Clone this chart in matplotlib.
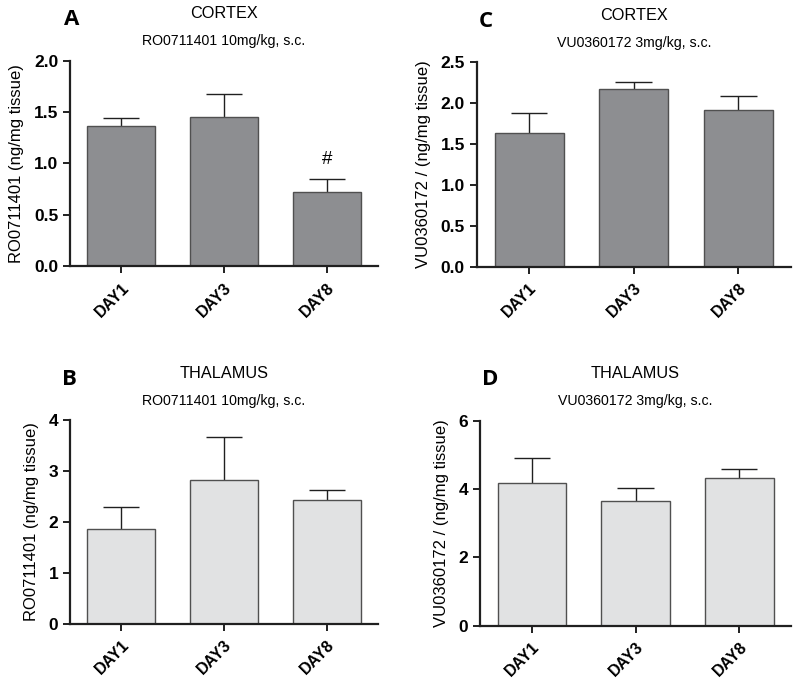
import matplotlib
matplotlib.use('Agg')
import matplotlib.pyplot as plt
import numpy as np

plt.rcParams['font.family'] = ['Liberation Sans', 'DejaVu Sans']

days = ['DAY1', 'DAY3', 'DAY8']

# panel A: cortex, RO0711401
ro_cortex = [1.37, 1.45, 0.72]
ro_cortex_sem = [0.07, 0.23, 0.13]
# panel B: thalamus, RO0711401
ro_thal = [1.87, 2.83, 2.43]
ro_thal_sem = [0.42, 0.84, 0.20]
# panel C: cortex, VU0360172
vu_cortex = [1.63, 2.17, 1.92]
vu_cortex_sem = [0.25, 0.09, 0.17]
# panel D: thalamus, VU0360172
vu_thal = [4.19, 3.65, 4.33]
vu_thal_sem = [0.73, 0.39, 0.25]

dark_bar = '#8d8e91'
light_bar = '#e1e2e3'

fig = plt.figure(figsize=(8, 6.84), dpi=100)


def panel(rect, vals, sem, color, letter, title, sub, ylabel, yticks, fmt, marks=None):
    ax = fig.add_axes(rect)
    x = np.arange(len(days))
    ax.bar(x, vals, width=0.66, color=color, edgecolor='#505050', linewidth=1.0, zorder=2)
    tops = np.array(vals) + np.array(sem)
    ax.vlines(x, vals, tops, color='#202020', linewidth=1.0, zorder=1)
    ax.hlines(tops, x - 0.175, x + 0.175, color='#202020', linewidth=1.0, zorder=1)
    ax.set_xlim(-0.5, 2.5)
    ax.set_ylim(yticks[0], yticks[-1])
    ax.set_yticks(yticks)
    ax.set_yticklabels([fmt.format(t) for t in yticks], fontsize=12.5, fontweight='bold')
    ax.set_xticks(x)
    ax.set_xticklabels(days, rotation=45, ha='right', rotation_mode='anchor',
                       fontsize=11.5, fontweight='bold')
    for s in ['top', 'right']:
        ax.spines[s].set_visible(False)
    for s in ['left', 'bottom']:
        ax.spines[s].set_linewidth(1.6)
        ax.spines[s].set_color('#202020')
    ax.tick_params(axis='both', direction='out', length=5, width=1.4, color='#202020')
    ax.tick_params(axis='x', pad=5)
    ax.set_ylabel(ylabel, fontsize=12, labelpad=7)
    ax.text(0.5, 1.23, title, transform=ax.transAxes, ha='center', va='center', fontsize=11.7)
    ax.text(0.5, 1.095, sub, transform=ax.transAxes, ha='center', va='center', fontsize=10.2)
    ax.text(letter[1], 1.2, letter[0], transform=ax.transAxes, ha='left', va='center',
            fontsize=16, fontweight='bold', family=['Open Sans', 'DejaVu Sans'])
    if marks:
        for i, m in marks.items():
            ax.annotate(m, (x[i], tops[i]), xytext=(0, 8), textcoords='offset points',
                        ha='center', va='bottom', fontsize=13.5)
    return ax


panel([0.0875, 0.611, 0.385, 0.300], ro_cortex, ro_cortex_sem, dark_bar,
      ('A', -0.02), 'CORTEX', 'RO0711401 10mg/kg, s.c.', 'RO0711401 (ng/mg tissue)',
      [0.0, 0.5, 1.0, 1.5, 2.0], '{:.1f}', marks={2: '#'})
panel([0.596, 0.610, 0.3925, 0.299], vu_cortex, vu_cortex_sem, dark_bar,
      ('C', 0.005), 'CORTEX', 'VU0360172 3mg/kg, s.c.', 'VU0360172 / (ng/mg tissue)',
      [0.0, 0.5, 1.0, 1.5, 2.0, 2.5], '{:.1f}')
panel([0.0875, 0.088, 0.385, 0.298], ro_thal, ro_thal_sem, light_bar,
      ('B', -0.025), 'THALAMUS', 'RO0711401 10mg/kg, s.c.', 'RO0711401 (ng/mg tissue)',
      [0, 1, 2, 3, 4], '{:d}')
panel([0.600, 0.085, 0.389, 0.300], vu_thal, vu_thal_sem, light_bar,
      ('D', 0.005), 'THALAMUS', 'VU0360172 3mg/kg, s.c.', 'VU0360172 / (ng/mg tissue)',
      [0, 2, 4, 6], '{:d}')

fig.savefig('out.png', dpi=100)
